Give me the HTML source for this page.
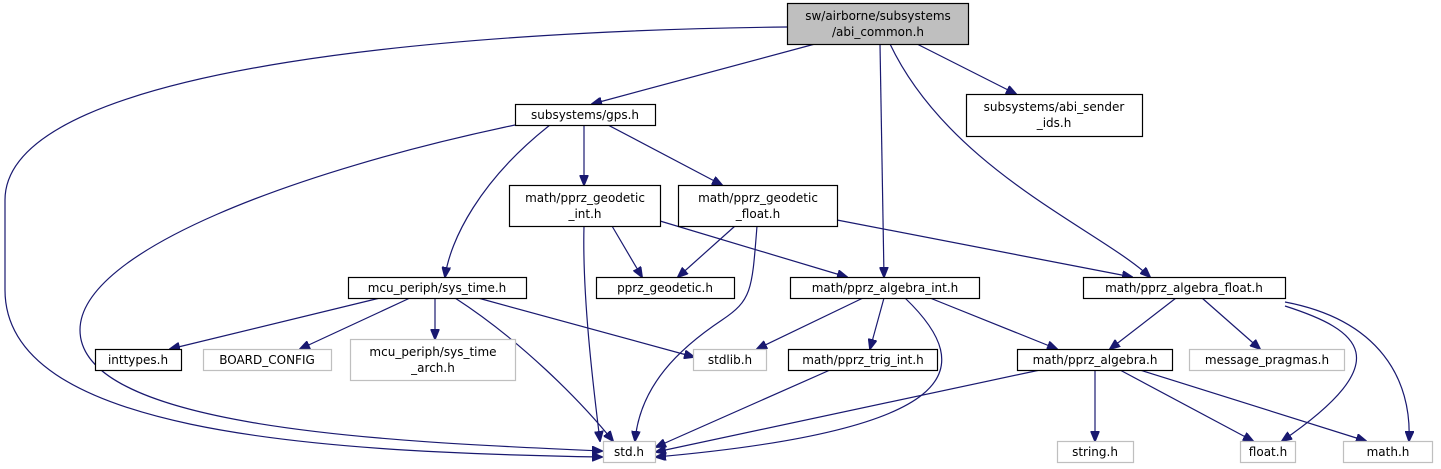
<!DOCTYPE html>
<html><head><meta charset="utf-8"><style>
html,body{margin:0;padding:0;background:#fff;}
svg{display:block;}
text{font-family:"DejaVu Sans","Liberation Sans",sans-serif;font-size:12px;fill:#000;}
.n{fill:#fff;stroke:#000;stroke-width:1.2}
.g{fill:#fff;stroke:#bfbfbf;stroke-width:1.2}
.e{fill:none;stroke:#191970;stroke-width:1.2}
</style></head><body>
<svg width="1441" height="469" viewBox="0 0 1441 469">
<defs><marker id="a" markerWidth="11" markerHeight="9" refX="10" refY="4.5" orient="auto" markerUnits="userSpaceOnUse"><path d="M0,0 L11,4.5 L0,9 Z" fill="#191970" stroke="#191970"/></marker></defs>
<g class="e" marker-end="url(#a)">
<path d="M787,27 C500,30 5,60 5,200 L5,290 C5,430 300,452 602,457"/>
<path d="M815,44 L592,104"/>
<path d="M880,44 L884,277"/>
<path d="M890,44 C950,170 1100,230 1150,277"/>
<path d="M917,44 L1016,94"/>
<path d="M515,125 C300,170 80,250 80,330 C80,430 400,442 602,451"/>
<path d="M550,125 C480,180 450,240 445,277"/>
<path d="M584,125 L584,185"/>
<path d="M608,125 L722,185"/>
<path d="M584,226 C582,300 595,400 600,441"/>
<path d="M612,226 L642,277"/>
<path d="M660,221 L847,277"/>
<path d="M735,226 L678,277"/>
<path d="M757,226 C752,290 752,300 722,320 C680,348 640,385 635,441"/>
<path d="M837,220 L1132,277"/>
<path d="M380,298 L170,349"/>
<path d="M410,298 L300,349"/>
<path d="M435,298 L435,339"/>
<path d="M455,298 C520,340 580,400 613,441"/>
<path d="M478,298 L694,357"/>
<path d="M863,298 L757,349"/>
<path d="M884,298 L870,349"/>
<path d="M905,298 C980,370 960,430 656,457"/>
<path d="M930,298 L1057,349"/>
<path d="M1176,298 L1110,349"/>
<path d="M1202,298 L1260,349"/>
<path d="M1285,306 C1360,330 1400,360 1282,441"/>
<path d="M1285,302 C1380,320 1412,380 1409,441"/>
<path d="M830,370 L656,447"/>
<path d="M1040,370 L656,452"/>
<path d="M1095,370 L1095,441"/>
<path d="M1120,370 L1253,441"/>
<path d="M1140,370 L1366,441"/>
</g>
<rect x="787.5" y="3.5" width="181" height="41" fill="#bfbfbf" stroke="#000" stroke-width="1.2"/>
<text x="878" y="20" text-anchor="middle">sw/airborne/subsystems</text>
<text x="878" y="36" text-anchor="middle">/abi_common.h</text>
<rect class="n" x="515.5" y="104.5" width="140" height="21"/><text x="585" y="119" text-anchor="middle">subsystems/gps.h</text>
<rect class="n" x="966.5" y="94.5" width="176" height="42"/><text x="1054" y="111" text-anchor="middle">subsystems/abi_sender</text><text x="1054" y="127" text-anchor="middle">_ids.h</text>
<rect class="n" x="509.5" y="185.5" width="151" height="41"/><text x="585" y="202" text-anchor="middle">math/pprz_geodetic</text><text x="585" y="218" text-anchor="middle">_int.h</text>
<rect class="n" x="678.5" y="185.5" width="159" height="41"/><text x="758" y="202" text-anchor="middle">math/pprz_geodetic</text><text x="758" y="218" text-anchor="middle">_float.h</text>
<rect class="n" x="348.5" y="277.5" width="178" height="21"/><text x="437" y="292" text-anchor="middle">mcu_periph/sys_time.h</text>
<rect class="n" x="596.5" y="277.5" width="138" height="21"/><text x="665" y="292" text-anchor="middle">pprz_geodetic.h</text>
<rect class="n" x="790.5" y="277.5" width="189" height="21"/><text x="885" y="292" text-anchor="middle">math/pprz_algebra_int.h</text>
<rect class="n" x="1083.5" y="277.5" width="202" height="21"/><text x="1184" y="292" text-anchor="middle">math/pprz_algebra_float.h</text>
<rect class="n" x="95.5" y="349.5" width="86" height="21"/><text x="138" y="364" text-anchor="middle">inttypes.h</text>
<rect class="g" x="203.5" y="349.5" width="128" height="21"/><text x="267" y="364" text-anchor="middle">BOARD_CONFIG</text>
<rect class="g" x="350.5" y="339.5" width="165" height="41"/><text x="433" y="356" text-anchor="middle">mcu_periph/sys_time</text><text x="433" y="372" text-anchor="middle">_arch.h</text>
<rect class="g" x="693.5" y="349.5" width="73" height="21"/><text x="730" y="364" text-anchor="middle">stdlib.h</text>
<rect class="n" x="788.5" y="349.5" width="149" height="21"/><text x="863" y="364" text-anchor="middle">math/pprz_trig_int.h</text>
<rect class="n" x="1017.5" y="349.5" width="155" height="21"/><text x="1095" y="364" text-anchor="middle">math/pprz_algebra.h</text>
<rect class="g" x="1189.5" y="349.5" width="155" height="21"/><text x="1267" y="364" text-anchor="middle">message_pragmas.h</text>
<rect class="g" x="603.5" y="441.5" width="52" height="21"/><text x="629" y="456" text-anchor="middle">std.h</text>
<rect class="g" x="1057.5" y="441.5" width="76" height="21"/><text x="1095" y="456" text-anchor="middle">string.h</text>
<rect class="g" x="1240.5" y="441.5" width="55" height="21"/><text x="1268" y="456" text-anchor="middle">float.h</text>
<rect class="g" x="1343.5" y="441.5" width="89" height="21"/><text x="1388" y="456" text-anchor="middle">math.h</text>
</svg>
</body></html>
